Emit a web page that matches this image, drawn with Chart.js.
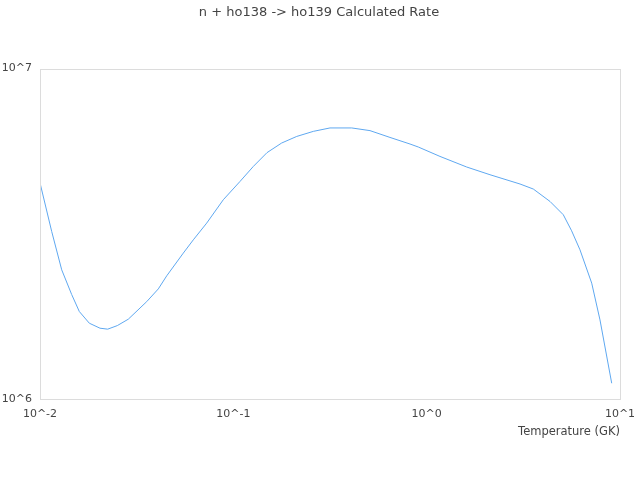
<!DOCTYPE html>
<html>
<head>
<meta charset="utf-8">
<script src="https://cdn.jsdelivr.net/npm/chart.js@4/dist/chart.umd.min.js"></script>
<style>
  html, body { margin: 0; padding: 0; background: #fff; }
  #wrap { width: 640px; height: 480px; }
</style>
</head>
<body>
<div id="wrap"><canvas id="chart1"></canvas></div>
<script>
/* values */
const temperatures = [
    0.01, 0.0115, 0.01295, 0.01459, 0.01597, 0.01799, 0.02043, 0.02239, 0.02512, 0.02862,
    0.03564, 0.04093, 0.04523, 0.0551, 0.06209, 0.07281, 0.08872, 0.1083, 0.1269, 0.1493,
    0.1778, 0.2128, 0.2593, 0.3162, 0.4096, 0.5093, 0.6461, 0.8202, 0.905, 1.172,
    1.611, 2.126, 3.04, 3.562, 4.345, 5.09, 5.62, 6.21, 7.14, 7.88, 9.06
];
const rates = [
    4.51e6, 3.21e6, 2.46e6, 2.07e6, 1.84e6, 1.696e6, 1.638e6, 1.627e6, 1.668e6, 1.744e6,
    1.971e6, 2.154e6, 2.359e6, 2.764e6, 3.032e6, 3.407e6, 4.009e6, 4.555e6, 5.057e6, 5.567e6,
    5.953e6, 6.233e6, 6.457e6, 6.613e6, 6.613e6, 6.49e6, 6.19e6, 5.912e6, 5.79e6, 5.423e6,
    5.036e6, 4.773e6, 4.474e6, 4.32e6, 3.962e6, 3.611e6, 3.229e6, 2.828e6, 2.242e6, 1.735e6, 1.116e6
];
const xTicks = [0.01, 0.1, 1, 10];
const yTicks = [1e6, 1e7];

const points = temperatures.map((t, i) => ({ x: t, y: rates[i] }));

function powLabel(v) {
    return '10^' + Math.round(Math.log10(v));
}
function isPow(v, list) {
    return list.some(t => Math.abs(Math.log10(v) - Math.log10(t)) < 1e-6);
}

/* box round the plot area */
const frame = {
    id: 'frame',
    afterDraw(chart) {
        const a = chart.chartArea;
        const c = chart.ctx;
        c.save();
        c.strokeStyle = '#dcdcdc';
        c.lineWidth = 1;
        c.strokeRect(Math.round(a.left) + 0.5, Math.round(a.top) + 0.5,
            Math.round(a.right - a.left), Math.round(a.bottom - a.top));
        c.restore();
    }
};

Chart.defaults.font.family = 'DejaVu Sans';
Chart.defaults.font.size = 11;
Chart.defaults.color = '#444';

const ctx = document.getElementById('chart1');

const config = {
    type: 'line',
    data: {
        datasets: [{
            data: points,
            borderColor: 'rgb(95,168,240)',
            borderWidth: 1,
            pointRadius: 0,
            fill: false,
            tension: 0
        }]
    },
    options: {
        responsive: true,
        maintainAspectRatio: false,
        animation: false,
        layout: { padding: { left: 0, right: 2, top: 0, bottom: 41 } },
        plugins: {
            legend: { display: false },
            tooltip: { enabled: false },
            title: {
                display: true,
                text: 'n + ho138 -> ho139 Calculated Rate',
                font: { size: 13, weight: 'normal' },
                color: '#444',
                padding: { top: 5, bottom: 48 }
            }
        },
        scales: {
            x: {
                type: 'logarithmic',
                min: 0.01,
                max: 10,
                grid: { display: false, drawTicks: false },
                border: { display: false },
                afterFit(scale) { scale.paddingRight = 20; },
                ticks: {
                    autoSkip: false,
                    maxRotation: 0,
                    padding: 9,
                    callback: (v) => isPow(v, xTicks) ? powLabel(v) : ''
                },
                title: {
                    display: true,
                    text: 'Temperature (GK)',
                    align: 'end',
                    font: { size: 11.5 },
                    padding: { top: -5, bottom: 0 }
                }
            },
            y: {
                type: 'logarithmic',
                min: 1e6,
                max: 1e7,
                grid: { display: false, drawTicks: false },
                border: { display: false },
                afterFit(scale) { scale.width = 40; },
                ticks: {
                    autoSkip: false,
                    padding: 8,
                    callback: (v) => isPow(v, yTicks) ? powLabel(v) : ''
                }
            }
        }
    },
    plugins: [frame]
};

const chart1 = new Chart(ctx, config);
</script>
</body>
</html>
